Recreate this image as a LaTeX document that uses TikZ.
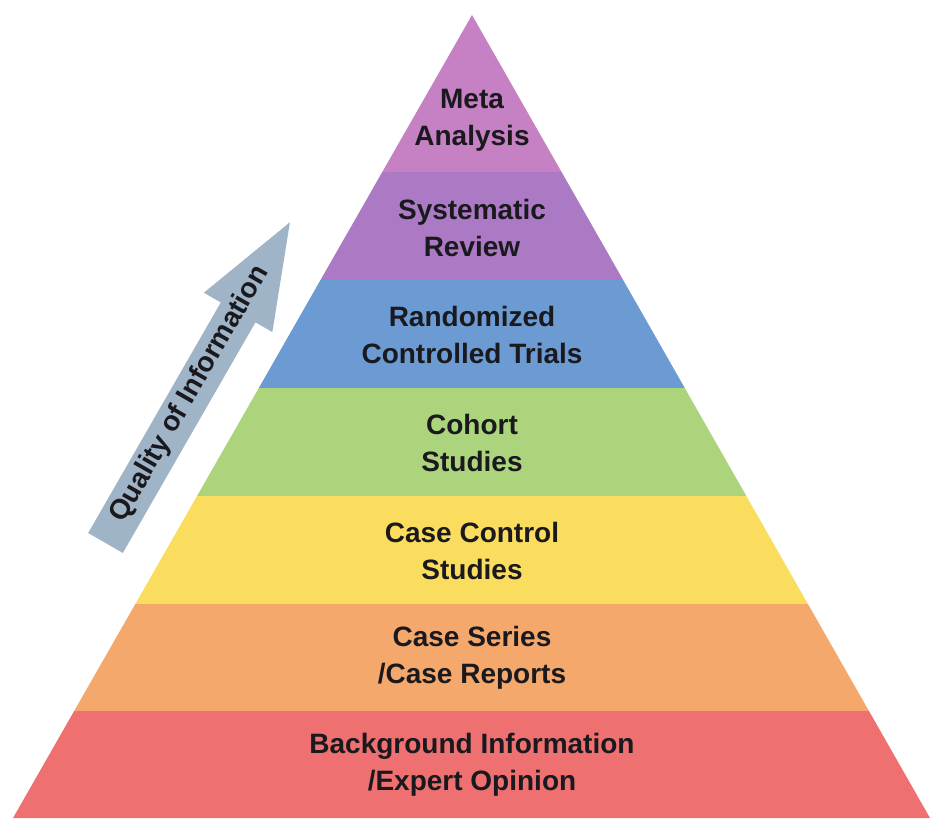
\documentclass[tikz,border=0pt]{standalone}
\usepackage{fontspec}
\setmainfont{Liberation Sans}
\definecolor{cmeta}{RGB}{198,128,196}
\definecolor{csys}{RGB}{172,122,196}
\definecolor{crct}{RGB}{108,155,212}
\definecolor{ccoh}{RGB}{172,212,124}
\definecolor{ccc}{RGB}{250,220,94}
\definecolor{ccs}{RGB}{245,168,108}
\definecolor{cbg}{RGB}{238,112,112}
\definecolor{carrow}{RGB}{160,180,200}
\definecolor{ctext}{RGB}{25,25,30}
\tikzset{
  lbl/.style={align=center, text=ctext, font=\fontsize{28}{37}\selectfont\bfseries, inner sep=0pt},
}
\begin{document}
\begin{tikzpicture}[x=1pt,y=1pt]
\useasboundingbox (0,0) rectangle (939,828);
\coordinate (apex) at (472,813);
\coordinate (bl) at (13,10);
\coordinate (br) at (930,10);
\begin{scope}
\clip (apex) -- (bl) -- (br) -- cycle;
\fill[cmeta] (0,656) rectangle (939,828);
\fill[csys] (0,548) rectangle (939,656);
\fill[crct] (0,440) rectangle (939,548);
\fill[ccoh] (0,332) rectangle (939,440);
\fill[ccc] (0,224) rectangle (939,332);
\fill[ccs] (0,117) rectangle (939,224);
\fill[cbg] (0,0) rectangle (939,117);
\end{scope}
\node[lbl] (meta) at (472,708) {Meta\\Analysis};
\node[lbl] (sys) at (472,600) {Systematic\\Review};
\node[lbl] (rct) at (472,493) {Randomized\\Controlled Trials};
\node[lbl] (coh) at (472,385) {Cohort\\Studies};
\node[lbl] (cc) at (472,277) {Case Control\\Studies};
\node[lbl] (cs) at (472,170) {Case Series\\/Case Reports};
\node[lbl] (bg) at (472,63) {Background Information\\/Expert Opinion};
\begin{scope}[shift={(105.5,285)}, rotate=60.1]
\fill[carrow] (0,-20) -- (266,-20) -- (266,-39.5) -- (370,0) -- (266,39.5) -- (266,20) -- (0,20) -- cycle;
\node[lbl, transform shape, anchor=center] (q) at (171,1) {Quality of Information};
\end{scope}
\end{tikzpicture}
\end{document}
